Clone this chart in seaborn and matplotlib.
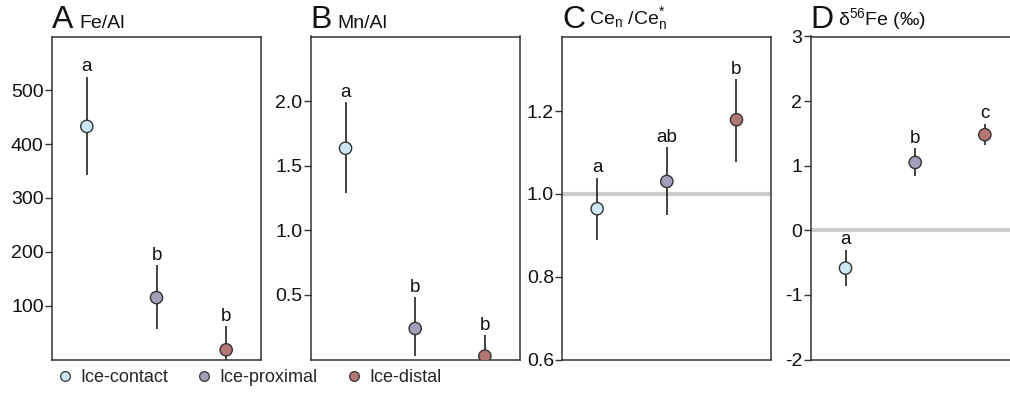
import numpy as np
import pandas as pd
import matplotlib
matplotlib.use("Agg")
import matplotlib.pyplot as plt
import seaborn as sns
from matplotlib.lines import Line2D

sns.set_theme(style="white")
plt.rcParams['font.family'] = ['Liberation Sans', 'DejaVu Sans']
plt.rcParams['mathtext.fontset'] = 'custom'
plt.rcParams['mathtext.rm'] = 'Liberation Sans'
plt.rcParams['mathtext.it'] = 'Liberation Sans'

groups = ["Ice-contact", "Ice-proximal", "Ice-distal"]
colors = ["#cde8f4", "#a19fb9", "#b47673"]

fe_al_mean = [433, 115, 18]
fe_al_low = [343, 56, -25]
fe_al_high = [525, 175, 62]
fe_al_letters = ["a", "b", "b"]

mn_al_mean = [1.635, 0.24, 0.026]
mn_al_low = [1.29, 0.03, -0.14]
mn_al_high = [1.99, 0.48, 0.19]
mn_al_letters = ["a", "b", "b"]

ce_mean = [0.964, 1.030, 1.179]
ce_low = [0.889, 0.950, 1.078]
ce_high = [1.039, 1.113, 1.277]
ce_letters = ["a", "ab", "b"]

d56_mean = [-0.585, 1.05, 1.48]
d56_low = [-0.86, 0.84, 1.32]
d56_high = [-0.30, 1.27, 1.65]
d56_letters = ["a", "b", "c"]

panels = [
    ("A", "Fe/Al", fe_al_mean, fe_al_low, fe_al_high, fe_al_letters,
     (0, 600), [100, 200, 300, 400, 500], ["100", "200", "300", "400", "500"], None),
    ("B", "Mn/Al", mn_al_mean, mn_al_low, mn_al_high, mn_al_letters,
     (0, 2.5), [0.5, 1.0, 1.5, 2.0], ["0.5", "1.0", "1.5", "2.0"], None),
    ("C", r"Ce$_\mathregular{n}$ /Ce$_\mathregular{n}^{*}$", ce_mean, ce_low, ce_high, ce_letters,
     (0.6, 1.38), [0.6, 0.8, 1.0, 1.2], ["0.6", "0.8", "1.0", "1.2"], 1.0),
    ("D", r"δ$^{\mathregular{56}}$Fe (‰)", d56_mean, d56_low, d56_high, d56_letters,
     (-2, 3), [-2, -1, 0, 1, 2, 3], ["-2", "-1", "0", "1", "2", "3"], 0.0),
]

W, H = 1010, 395
fig = plt.figure(figsize=(W / 100, H / 100), dpi=100)
lefts = [52, 310.7, 562.3, 810.7]
ax_w, ax_b, ax_t = 209, 359.5, 36.5

for (letter, title, mean, low, high, lets, ylim, yt, ytl, refline), lx in zip(panels, lefts):
    ax = fig.add_axes([lx / W, (H - ax_b) / H, ax_w / W, (ax_b - ax_t) / H])
    df = pd.DataFrame({"group": groups, "mean": mean, "low": low, "high": high,
                       "pos": np.arange(len(groups))})
    if refline is not None:
        ax.axhline(refline, color="#cccccc", lw=3, zorder=0)
    ax.vlines(df["pos"], df["low"], df["high"], color="#222222", lw=1.2, zorder=2)
    sns.scatterplot(data=df, x="pos", y="mean", hue="group", palette=colors,
                    s=78, edgecolor="#333333", linewidth=1.0, legend=False, ax=ax, zorder=3)
    for p, h, t in zip(df["pos"], df["high"], lets):
        ax.annotate(t, (p, h), xytext=(0, 1), textcoords="offset points",
                    ha="center", va="bottom", fontsize=13.5, color="#111111")
    ax.set_xlim(-0.5, 2.5)
    ax.set_ylim(*ylim)
    ax.set_xticks([])
    ax.set_yticks(yt)
    ax.set_yticklabels(ytl)
    ax.set_xlabel("")
    ax.set_ylabel("")
    ax.tick_params(axis="y", direction="out", length=5, width=1, color="#333333",
                   labelsize=14, pad=1, left=True, labelcolor="#111111")
    for sp in ax.spines.values():
        sp.set_color("#333333")
        sp.set_linewidth(1.1)
    ax.text(0.0, 1.004, letter, transform=ax.transAxes, fontsize=23,
            ha="left", va="bottom", color="#111111")
    ax.text(0.13, 1.014, title, transform=ax.transAxes, fontsize=14,
            ha="left", va="bottom", color="#111111")

handles = [Line2D([0], [0], marker="o", ls="", markerfacecolor=c, markeredgecolor="#333333",
                  markersize=7, markeredgewidth=0.9) for c in colors]
fig.legend(handles, groups, loc="center left", bbox_to_anchor=(56 / W, 1 - 378 / H),
           ncol=3, frameon=False, fontsize=13, handletextpad=0.35, columnspacing=1.5,
           handlelength=1.0, borderaxespad=0, borderpad=0)

fig.savefig("out.png", dpi=100)
